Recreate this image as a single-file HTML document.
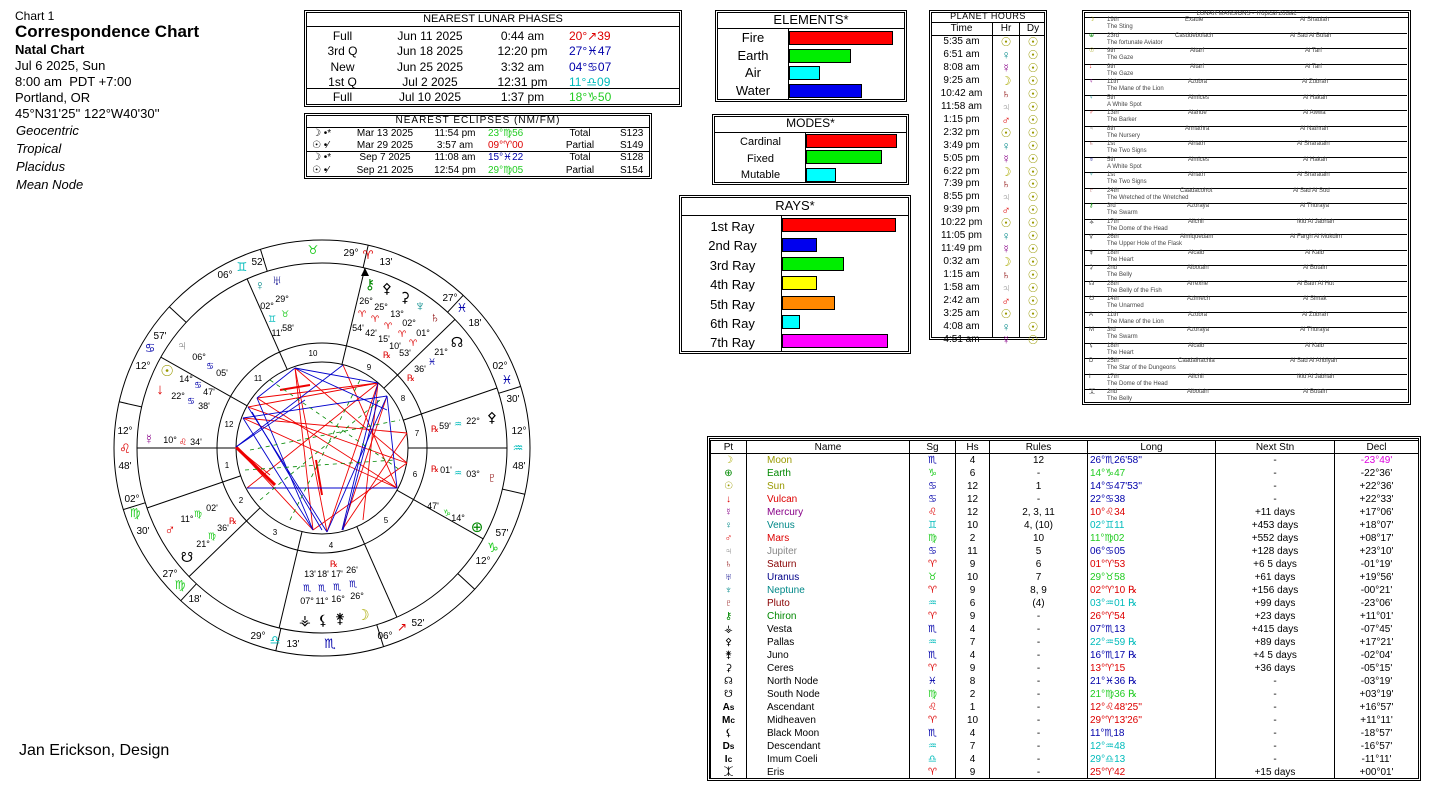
<!DOCTYPE html>
<html><head><meta charset="utf-8"><style>
body{margin:0;width:1437px;height:789px;background:#fff;position:relative;overflow:hidden;font-family:"Liberation Sans","DejaVu Sans",sans-serif;color:#000}
.a{position:absolute;white-space:nowrap}
.box{position:absolute;border:3px double #000;box-sizing:border-box}
.bar{position:absolute;border:1px solid #000;box-sizing:border-box;height:14px}
table{border-collapse:collapse;table-layout:fixed}
.pt td{height:13px;padding:0;font-size:10px;line-height:12px;border-left:1px solid #000;border-right:1px solid #000;text-align:center}
.pt th{height:12px;padding:0;font-size:10px;font-weight:normal;border:1px solid #000}
.lm{position:absolute;left:1085px;width:322px;height:15.5px;border-bottom:1px solid #000;font-size:6px;line-height:7px;color:#444}
.lm span{position:absolute;top:0}
</style></head><body>
<div class="a" style="left:15px;top:9px;font-size:12px">Chart 1</div>
<div class="a" style="left:15px;top:22px;font-size:17px;font-weight:bold">Correspondence Chart</div>
<div class="a" style="left:15px;top:42px;font-size:13px;font-weight:bold">Natal Chart</div>
<div class="a" style="left:15px;top:58px;font-size:13px;line-height:16px">Jul 6 2025, Sun<br>8:00 am&nbsp; PDT +7:00<br>Portland, OR<br>45°N31'25'' 122°W40'30''</div>
<div class="a" style="left:16px;top:122px;font-size:13px;line-height:18px;font-style:italic">Geocentric<br>Tropical<br>Placidus<br>Mean Node</div>
<div class="a" style="left:19px;top:742px;font-size:16px">Jan Erickson, Design</div>

<!-- lunar phases -->
<div class="box" style="left:304px;top:10px;width:378px;height:97px"></div>
<div class="a" style="left:306px;top:26px;width:374px;border-top:1px solid #000"></div>
<div class="a" style="left:306px;top:88px;width:374px;border-top:1px solid #000"></div>
<div class="a" style="left:304px;top:13px;width:378px;text-align:center;font-size:11px">NEAREST LUNAR PHASES</div>
<div class="a" style="left:320px;top:29px;font-size:12px;line-height:15.3px;text-align:center;width:45px">Full<br>3rd Q<br>New<br>1st Q<br>Full</div>
<div class="a" style="left:380px;top:29px;font-size:12px;line-height:15.3px;text-align:center;width:100px">Jun 11 2025<br>Jun 18 2025<br>Jun 25 2025<br>Jul 2 2025<br>Jul 10 2025</div>
<div class="a" style="left:490px;top:29px;font-size:12px;line-height:15.3px;text-align:center;width:65px">0:44 am<br>12:20 pm<br>3:32 am<br>12:31 pm<br>1:37 pm</div>
<div class="a" style="left:569px;top:29px;font-size:12px;line-height:15.3px"><span style="color:#d00">20°↗39</span><br><span style="color:#00a">27°♓47</span><br><span style="color:#00a">04°♋07</span><br><span style="color:#0bb">11°♎09</span><br><span style="color:#2c2">18°♑50</span></div>

<!-- eclipses -->
<div class="box" style="left:304px;top:113px;width:348px;height:66px"></div>
<div class="a" style="left:306px;top:127px;width:344px;border-top:1px solid #000"></div>
<div class="a" style="left:306px;top:151px;width:344px;border-top:1px solid #000"></div>
<div class="a" style="left:304px;top:115px;width:348px;text-align:center;font-size:10px;letter-spacing:1px">NEAREST ECLIPSES (NM/FM)</div>
<div class="a" style="left:312px;top:128px;font-size:10px;line-height:12.2px">☽ •*<br>☉ •⁄<br>☽ •*<br>☉ •⁄</div>
<div class="a" style="left:350px;top:128px;font-size:10px;line-height:12.2px;width:70px;text-align:center">Mar 13 2025<br>Mar 29 2025<br>Sep 7 2025<br>Sep 21 2025</div>
<div class="a" style="left:430px;top:128px;font-size:10px;line-height:12.2px;width:50px;text-align:center">11:54 pm<br>3:57 am<br>11:08 am<br>12:54 pm</div>
<div class="a" style="left:488px;top:128px;font-size:10px;line-height:12.2px"><span style="color:#2c2">23°♍56</span><br><span style="color:#d00">09°♈00</span><br><span style="color:#00a">15°♓22</span><br><span style="color:#2c2">29°♍05</span></div>
<div class="a" style="left:560px;top:128px;font-size:10px;line-height:12.2px;width:40px;text-align:center">Total<br>Partial<br>Total<br>Partial</div>
<div class="a" style="left:620px;top:128px;font-size:10px;line-height:12.2px">S123<br>S149<br>S128<br>S154</div>

<!-- elements -->
<div class="box" style="left:715px;top:10px;width:192px;height:92px"></div>
<div class="a" style="left:717px;top:28px;width:188px;border-top:1px solid #000"></div>
<div class="a" style="left:788px;top:28px;height:71px;border-left:1px solid #000"></div>
<div class="a" style="left:715px;top:12px;width:192px;text-align:center;font-size:13px">ELEMENTS*</div>
<div class="a" style="left:718px;top:29px;width:70px;text-align:center;font-size:13px;line-height:17.5px">Fire<br>Earth<br>Air<br>Water</div>
<div class="bar" style="left:789px;top:31px;width:104px;background:#f00"></div>
<div class="bar" style="left:789px;top:49px;width:62px;background:#0e0"></div>
<div class="bar" style="left:789px;top:66px;width:31px;background:#0ff"></div>
<div class="bar" style="left:789px;top:84px;width:73px;background:#00e"></div>

<!-- modes -->
<div class="box" style="left:712px;top:114px;width:197px;height:71px"></div>
<div class="a" style="left:714px;top:132px;width:193px;border-top:1px solid #000"></div>
<div class="a" style="left:805px;top:132px;height:51px;border-left:1px solid #000"></div>
<div class="a" style="left:712px;top:116px;width:197px;text-align:center;font-size:12px">MODES*</div>
<div class="a" style="left:716px;top:134px;width:89px;text-align:center;font-size:11px;line-height:16.5px">Cardinal<br>Fixed<br>Mutable</div>
<div class="bar" style="left:806px;top:134px;width:91px;background:#f00"></div>
<div class="bar" style="left:806px;top:150px;width:76px;background:#0e0"></div>
<div class="bar" style="left:806px;top:168px;width:30px;background:#0ff"></div>

<!-- rays -->
<div class="box" style="left:679px;top:195px;width:232px;height:159px"></div>
<div class="a" style="left:681px;top:215px;width:228px;border-top:1px solid #000"></div>
<div class="a" style="left:781px;top:215px;height:137px;border-left:1px solid #000"></div>
<div class="a" style="left:679px;top:198px;width:232px;text-align:center;font-size:13px">RAYS*</div>
<div class="a" style="left:700px;top:217px;width:65px;text-align:center;font-size:13px;line-height:19.4px">1st Ray<br>2nd Ray<br>3rd Ray<br>4th Ray<br>5th Ray<br>6th Ray<br>7th Ray</div>
<div class="bar" style="left:782px;top:218px;width:114px;background:#f00"></div>
<div class="bar" style="left:782px;top:238px;width:35px;background:#00e"></div>
<div class="bar" style="left:782px;top:257px;width:62px;background:#0e0"></div>
<div class="bar" style="left:782px;top:276px;width:35px;background:#ff0"></div>
<div class="bar" style="left:782px;top:296px;width:53px;background:#f80"></div>
<div class="bar" style="left:782px;top:315px;width:18px;background:#0ff"></div>
<div class="bar" style="left:782px;top:334px;width:106px;background:#f0f"></div>

<!-- planet hours -->
<div class="box" style="left:929px;top:10px;width:118px;height:330px"></div>
<div class="a" style="left:931px;top:22px;width:114px;border-top:1px solid #000"></div>
<div class="a" style="left:931px;top:35px;width:114px;border-top:1px solid #000"></div>
<div class="a" style="left:992px;top:22px;height:316px;border-left:1px solid #000"></div>
<div class="a" style="left:1019px;top:22px;height:316px;border-left:1px solid #000"></div>
<div class="a" style="left:929px;top:11px;width:118px;text-align:center;font-size:9px;letter-spacing:.5px">PLANET HOURS</div>
<div class="a" style="left:931px;top:23px;width:61px;text-align:center;font-size:10px">Time</div>
<div class="a" style="left:993px;top:23px;width:26px;text-align:center;font-size:10px">Hr</div>
<div class="a" style="left:1020px;top:23px;width:26px;text-align:center;font-size:10px">Dy</div>
<div class="a" style="left:931px;top:36px;width:61px;text-align:center;font-size:10px;line-height:12.95px">5:35 am<br>6:51 am<br>8:08 am<br>9:25 am<br>10:42 am<br>11:58 am<br>1:15 pm<br>2:32 pm<br>3:49 pm<br>5:05 pm<br>6:22 pm<br>7:39 pm<br>8:55 pm<br>9:39 pm<br>10:22 pm<br>11:05 pm<br>11:49 pm<br>0:32 am<br>1:15 am<br>1:58 am<br>2:42 am<br>3:25 am<br>4:08 am<br>4:51 am</div>
<div class="a" style="left:993px;top:36px;width:26px;text-align:center;font-size:12px;line-height:12.95px;font-weight:bold"><span style="color:#990">☉</span><br><span style="color:#088">♀</span><br><span style="color:#808">☿</span><br><span style="color:#aa0">☽</span><br><span style="color:#800">♄</span><br><span style="color:#888">♃</span><br><span style="color:#d00">♂</span><br><span style="color:#990">☉</span><br><span style="color:#088">♀</span><br><span style="color:#808">☿</span><br><span style="color:#aa0">☽</span><br><span style="color:#800">♄</span><br><span style="color:#888">♃</span><br><span style="color:#d00">♂</span><br><span style="color:#990">☉</span><br><span style="color:#088">♀</span><br><span style="color:#808">☿</span><br><span style="color:#aa0">☽</span><br><span style="color:#800">♄</span><br><span style="color:#888">♃</span><br><span style="color:#d00">♂</span><br><span style="color:#990">☉</span><br><span style="color:#088">♀</span><br><span style="color:#808">☿</span></div>
<div class="a" style="left:1020px;top:36px;width:26px;text-align:center;font-size:12px;line-height:12.95px;color:#990;font-weight:bold">☉<br>☉<br>☉<br>☉<br>☉<br>☉<br>☉<br>☉<br>☉<br>☉<br>☉<br>☉<br>☉<br>☉<br>☉<br>☉<br>☉<br>☉<br>☉<br>☉<br>☉<br>☉<br>☉<br>☉</div>

<!-- lunar mansions -->
<div class="box" style="left:1082px;top:10px;width:329px;height:395px"></div>
<div class="a" style="left:1082px;top:11px;width:329px;text-align:center;font-size:6px;color:#444">LUNAR MANSIONS - Tropical Zodiac</div>
<div class="a" style="left:1084px;top:17px;width:325px;border-top:1px solid #000"></div>
<div class="lm" style="top:17.0px"><span style="left:4px;color:#aa0">☽</span><span style="left:22px">19th</span><span style="left:100px">Exaule</span><span style="left:215px">Al Shaulah</span><span style="left:22px;top:7px">The Sting</span></div>
<div class="lm" style="top:32.5px"><span style="left:4px;color:#080">⊕</span><span style="left:22px">23rd</span><span style="left:90px">Casddebolach</span><span style="left:205px">Al Sad Al Bulah</span><span style="left:22px;top:7px">The fortunate Aviator</span></div>
<div class="lm" style="top:48px"><span style="left:4px;color:#990">☉</span><span style="left:22px">9th</span><span style="left:105px">Altarf</span><span style="left:220px">Al Tarf</span><span style="left:22px;top:7px">The Gaze</span></div>
<div class="lm" style="top:63.5px"><span style="left:4px;color:#d00">↓</span><span style="left:22px">9th</span><span style="left:105px">Altarf</span><span style="left:220px">Al Tarf</span><span style="left:22px;top:7px">The Gaze</span></div>
<div class="lm" style="top:79px"><span style="left:4px;color:#808">☿</span><span style="left:22px">11th</span><span style="left:103px">Azobra</span><span style="left:217px">Al Zubrah</span><span style="left:22px;top:7px">The Mane of the Lion</span></div>
<div class="lm" style="top:94.5px"><span style="left:4px;color:#088">♀</span><span style="left:22px">5th</span><span style="left:103px">Almices</span><span style="left:218px">Al Hakah</span><span style="left:22px;top:7px">A White Spot</span></div>
<div class="lm" style="top:110px"><span style="left:4px;color:#d00">♂</span><span style="left:22px">13th</span><span style="left:103px">Alahue</span><span style="left:218px">Al Awwa</span><span style="left:22px;top:7px">The Barker</span></div>
<div class="lm" style="top:125.5px"><span style="left:4px;color:#888">♃</span><span style="left:22px">8th</span><span style="left:100px">Annathra</span><span style="left:215px">Al Nathrah</span><span style="left:22px;top:7px">The Nursery</span></div>
<div class="lm" style="top:141px"><span style="left:4px;color:#800">♄</span><span style="left:22px">1st</span><span style="left:103px">Alnath</span><span style="left:212px">Al Sharatain</span><span style="left:22px;top:7px">The Two Signs</span></div>
<div class="lm" style="top:156.5px"><span style="left:4px;color:#008">♅</span><span style="left:22px">5th</span><span style="left:103px">Almices</span><span style="left:218px">Al Hakah</span><span style="left:22px;top:7px">A White Spot</span></div>
<div class="lm" style="top:172px"><span style="left:4px;color:#088">♆</span><span style="left:22px">1st</span><span style="left:103px">Alnath</span><span style="left:212px">Al Sharatain</span><span style="left:22px;top:7px">The Two Signs</span></div>
<div class="lm" style="top:187.5px"><span style="left:4px;color:#800">♇</span><span style="left:22px">24th</span><span style="left:95px">Caadacohot</span><span style="left:208px">Al Sad Al Sud</span><span style="left:22px;top:7px">The Wretched of the Wretched</span></div>
<div class="lm" style="top:203px"><span style="left:4px;color:#080">⚷</span><span style="left:22px">3rd</span><span style="left:102px">Azoraya</span><span style="left:215px">Al Thuraya</span><span style="left:22px;top:7px">The Swarm</span></div>
<div class="lm" style="top:218.5px"><span style="left:4px">⚶</span><span style="left:22px">17th</span><span style="left:103px">Alichil</span><span style="left:212px">Ikld Al Jabhah</span><span style="left:22px;top:7px">The Dome of the Head</span></div>
<div class="lm" style="top:234px"><span style="left:4px">⚴</span><span style="left:22px">26th</span><span style="left:95px">Almiquedam</span><span style="left:205px">Al Fargh Al Mukdim</span><span style="left:22px;top:7px">The Upper Hole of the Flask</span></div>
<div class="lm" style="top:249.5px"><span style="left:4px">⚵</span><span style="left:22px">18th</span><span style="left:103px">Alcalb</span><span style="left:220px">Al Kalb</span><span style="left:22px;top:7px">The Heart</span></div>
<div class="lm" style="top:265px"><span style="left:4px">⚳</span><span style="left:22px">2nd</span><span style="left:102px">Albotain</span><span style="left:218px">Al Butain</span><span style="left:22px;top:7px">The Belly</span></div>
<div class="lm" style="top:280.5px"><span style="left:4px">☊</span><span style="left:22px">28th</span><span style="left:102px">Arrexhe</span><span style="left:212px">Al Batn Al Hut</span><span style="left:22px;top:7px">The Belly of the Fish</span></div>
<div class="lm" style="top:296px"><span style="left:4px">☋</span><span style="left:22px">14th</span><span style="left:102px">Azimech</span><span style="left:218px">Al Simak</span><span style="left:22px;top:7px">The Unarmed</span></div>
<div class="lm" style="top:311.5px"><span style="left:4px">A</span><span style="left:22px">11th</span><span style="left:103px">Azobra</span><span style="left:217px">Al Zubrah</span><span style="left:22px;top:7px">The Mane of the Lion</span></div>
<div class="lm" style="top:327px"><span style="left:4px">M</span><span style="left:22px">3rd</span><span style="left:102px">Azoraya</span><span style="left:215px">Al Thuraya</span><span style="left:22px;top:7px">The Swarm</span></div>
<div class="lm" style="top:342.5px"><span style="left:4px">⚸</span><span style="left:22px">18th</span><span style="left:103px">Alcalb</span><span style="left:220px">Al Kalb</span><span style="left:22px;top:7px">The Heart</span></div>
<div class="lm" style="top:358px"><span style="left:4px">D</span><span style="left:22px">25th</span><span style="left:93px">Caadalhachia</span><span style="left:205px">Al Sad Al Ahbiyah</span><span style="left:22px;top:7px">The Star of the Dungeons</span></div>
<div class="lm" style="top:373.5px"><span style="left:4px">I</span><span style="left:22px">17th</span><span style="left:103px">Alichil</span><span style="left:212px">Ikld Al Jabhah</span><span style="left:22px;top:7px">The Dome of the Head</span></div>
<div class="lm" style="top:389px;border-bottom:none"><span style="left:4px">⯰</span><span style="left:22px">2nd</span><span style="left:102px">Albotain</span><span style="left:218px">Al Butain</span><span style="left:22px;top:7px">The Belly</span></div>

<!-- planet table -->
<div class="box" style="left:707px;top:436px;width:714px;height:345px;padding:1px 0 0 0">
<table class="pt" style="width:708px">
<colgroup><col style="width:36px"><col style="width:163px"><col style="width:46px"><col style="width:34px"><col style="width:98px"><col style="width:128px"><col style="width:119px"><col style="width:84px"></colgroup>
<tr><th>Pt</th><th>Name</th><th>Sg</th><th>Hs</th><th>Rules</th><th>Long</th><th>Next Stn</th><th>Decl</th></tr>
<tr><td style="color:#aa0">☽</td><td style="text-align:left;padding-left:20px;color:#990">Moon</td><td style="color:#00a">♏</td><td>4</td><td>12</td><td style="text-align:left;padding-left:2px;color:#00a">26°♏26'58''</td><td>-</td><td style="color:#d0d">-23°49'</td></tr>
<tr><td style="color:#080">⊕</td><td style="text-align:left;padding-left:20px;color:#080">Earth</td><td style="color:#2c2">♑</td><td>6</td><td>-</td><td style="text-align:left;padding-left:2px;color:#2c2">14°♑47</td><td>-</td><td>-22°36'</td></tr>
<tr><td style="color:#990">☉</td><td style="text-align:left;padding-left:20px;color:#990">Sun</td><td style="color:#00a">♋</td><td>12</td><td>1</td><td style="text-align:left;padding-left:2px;color:#00a">14°♋47'53''</td><td>-</td><td>+22°36'</td></tr>
<tr><td style="color:#d00">↓</td><td style="text-align:left;padding-left:20px;color:#d00">Vulcan</td><td style="color:#00a">♋</td><td>12</td><td>-</td><td style="text-align:left;padding-left:2px;color:#00a">22°♋38</td><td>-</td><td>+22°33'</td></tr>
<tr><td style="color:#808">☿</td><td style="text-align:left;padding-left:20px;color:#808">Mercury</td><td style="color:#d00">♌</td><td>12</td><td>2, 3, 11</td><td style="text-align:left;padding-left:2px;color:#d00">10°♌34</td><td>+11 days</td><td>+17°06'</td></tr>
<tr><td style="color:#088">♀</td><td style="text-align:left;padding-left:20px;color:#088">Venus</td><td style="color:#0bb">♊</td><td>10</td><td>4, (10)</td><td style="text-align:left;padding-left:2px;color:#0bb">02°♊11</td><td>+453 days</td><td>+18°07'</td></tr>
<tr><td style="color:#d00">♂</td><td style="text-align:left;padding-left:20px;color:#d00">Mars</td><td style="color:#2c2">♍</td><td>2</td><td>10</td><td style="text-align:left;padding-left:2px;color:#2c2">11°♍02</td><td>+552 days</td><td>+08°17'</td></tr>
<tr><td style="color:#888">♃</td><td style="text-align:left;padding-left:20px;color:#888">Jupiter</td><td style="color:#00a">♋</td><td>11</td><td>5</td><td style="text-align:left;padding-left:2px;color:#00a">06°♋05</td><td>+128 days</td><td>+23°10'</td></tr>
<tr><td style="color:#800">♄</td><td style="text-align:left;padding-left:20px;color:#800">Saturn</td><td style="color:#d00">♈</td><td>9</td><td>6</td><td style="text-align:left;padding-left:2px;color:#d00">01°♈53</td><td>+6 5 days</td><td>-01°19'</td></tr>
<tr><td style="color:#008">♅</td><td style="text-align:left;padding-left:20px;color:#008">Uranus</td><td style="color:#2c2">♉</td><td>10</td><td>7</td><td style="text-align:left;padding-left:2px;color:#2c2">29°♉58</td><td>+61 days</td><td>+19°56'</td></tr>
<tr><td style="color:#088">♆</td><td style="text-align:left;padding-left:20px;color:#088">Neptune</td><td style="color:#d00">♈</td><td>9</td><td>8, 9</td><td style="text-align:left;padding-left:2px;color:#d00">02°♈10 ℞</td><td>+156 days</td><td>-00°21'</td></tr>
<tr><td style="color:#800">♇</td><td style="text-align:left;padding-left:20px;color:#800">Pluto</td><td style="color:#0bb">♒</td><td>6</td><td>(4)</td><td style="text-align:left;padding-left:2px;color:#0bb">03°♒01 ℞</td><td>+99 days</td><td>-23°06'</td></tr>
<tr><td style="color:#080">⚷</td><td style="text-align:left;padding-left:20px;color:#080">Chiron</td><td style="color:#d00">♈</td><td>9</td><td>-</td><td style="text-align:left;padding-left:2px;color:#d00">26°♈54</td><td>+23 days</td><td>+11°01'</td></tr>
<tr><td>⚶</td><td style="text-align:left;padding-left:20px">Vesta</td><td style="color:#00a">♏</td><td>4</td><td>-</td><td style="text-align:left;padding-left:2px;color:#00a">07°♏13</td><td>+415 days</td><td>-07°45'</td></tr>
<tr><td>⚴</td><td style="text-align:left;padding-left:20px">Pallas</td><td style="color:#0bb">♒</td><td>7</td><td>-</td><td style="text-align:left;padding-left:2px;color:#0bb">22°♒59 ℞</td><td>+89 days</td><td>+17°21'</td></tr>
<tr><td>⚵</td><td style="text-align:left;padding-left:20px">Juno</td><td style="color:#00a">♏</td><td>4</td><td>-</td><td style="text-align:left;padding-left:2px;color:#00a">16°♏17 ℞</td><td>+4 5 days</td><td>-02°04'</td></tr>
<tr><td>⚳</td><td style="text-align:left;padding-left:20px">Ceres</td><td style="color:#d00">♈</td><td>9</td><td>-</td><td style="text-align:left;padding-left:2px;color:#d00">13°♈15</td><td>+36 days</td><td>-05°15'</td></tr>
<tr><td>☊</td><td style="text-align:left;padding-left:20px">North Node</td><td style="color:#00a">♓</td><td>8</td><td>-</td><td style="text-align:left;padding-left:2px;color:#00a">21°♓36 ℞</td><td>-</td><td>-03°19'</td></tr>
<tr><td>☋</td><td style="text-align:left;padding-left:20px">South Node</td><td style="color:#2c2">♍</td><td>2</td><td>-</td><td style="text-align:left;padding-left:2px;color:#2c2">21°♍36 ℞</td><td>-</td><td>+03°19'</td></tr>
<tr><td style="font-weight:bold">A<small>s</small></td><td style="text-align:left;padding-left:20px">Ascendant</td><td style="color:#d00">♌</td><td>1</td><td>-</td><td style="text-align:left;padding-left:2px;color:#d00">12°♌48'25''</td><td>-</td><td>+16°57'</td></tr>
<tr><td style="font-weight:bold">M<small>c</small></td><td style="text-align:left;padding-left:20px">Midheaven</td><td style="color:#d00">♈</td><td>10</td><td>-</td><td style="text-align:left;padding-left:2px;color:#d00">29°♈13'26''</td><td>-</td><td>+11°11'</td></tr>
<tr><td>⚸</td><td style="text-align:left;padding-left:20px">Black Moon</td><td style="color:#00a">♏</td><td>4</td><td>-</td><td style="text-align:left;padding-left:2px;color:#00a">11°♏18</td><td>-</td><td>-18°57'</td></tr>
<tr><td style="font-weight:bold">D<small>s</small></td><td style="text-align:left;padding-left:20px">Descendant</td><td style="color:#0bb">♒</td><td>7</td><td>-</td><td style="text-align:left;padding-left:2px;color:#0bb">12°♒48</td><td>-</td><td>-16°57'</td></tr>
<tr><td style="font-weight:bold">I<small>c</small></td><td style="text-align:left;padding-left:20px">Imum Coeli</td><td style="color:#0bb">♎</td><td>4</td><td>-</td><td style="text-align:left;padding-left:2px;color:#0bb">29°♎13</td><td>-</td><td>-11°11'</td></tr>
<tr><td>⯰</td><td style="text-align:left;padding-left:20px">Eris</td><td style="color:#d00">♈</td><td>9</td><td>-</td><td style="text-align:left;padding-left:2px;color:#d00">25°♈42</td><td>+15 days</td><td>+00°01'</td></tr>
</table></div>

<!-- wheel -->
<svg class="a" style="left:0;top:0" width="560" height="700" viewBox="0 0 560 700" font-family="Liberation Sans, DejaVu Sans, sans-serif">
<g fill="none" stroke="#000" stroke-width="1">
<circle cx="322" cy="448" r="208"/><circle cx="322" cy="448" r="185"/><circle cx="322" cy="448" r="105"/><circle cx="322" cy="448" r="86"/>
<line x1="236" y1="448" x2="137" y2="448"/><line x1="247.1" y1="405.8" x2="160.9" y2="357.2"/><line x1="287.2" y1="369.4" x2="247.1" y2="278.9"/><line x1="342" y1="364.3" x2="364.9" y2="268"/><line x1="383.9" y1="388.2" x2="455" y2="319.4"/><line x1="403.4" y1="420.1" x2="497" y2="388"/><line x1="408" y1="448" x2="507" y2="448"/><line x1="396.9" y1="490.2" x2="483.1" y2="538.8"/><line x1="356.8" y1="526.6" x2="396.9" y2="617.1"/><line x1="302" y1="531.7" x2="279.1" y2="628"/><line x1="260.1" y1="507.8" x2="189" y2="576.6"/><line x1="240.6" y1="475.9" x2="147" y2="508"/>
<line x1="447.6" y1="312.2" x2="463.2" y2="295.3"/><line x1="363.1" y1="267.6" x2="368.2" y2="245.2"/><line x1="267.2" y1="271.1" x2="260.4" y2="249.2"/><line x1="186.2" y1="322.4" x2="169.3" y2="306.8"/><line x1="141.6" y1="406.9" x2="119.2" y2="401.8"/><line x1="145.1" y1="502.8" x2="123.2" y2="509.6"/><line x1="196.4" y1="583.8" x2="180.8" y2="600.7"/><line x1="280.9" y1="628.4" x2="275.8" y2="650.8"/><line x1="376.8" y1="624.9" x2="383.6" y2="646.8"/><line x1="457.8" y1="573.6" x2="474.7" y2="589.2"/><line x1="502.4" y1="489.1" x2="524.8" y2="494.2"/><line x1="498.9" y1="393.2" x2="520.8" y2="386.4"/>
</g>
<polygon points="365,268 361,276 369,276" fill="#000"/>
<g stroke="#e00" stroke-width="0.9" fill="none">
<line x1="295" y1="368" x2="313" y2="530"/><line x1="295" y1="368" x2="327" y2="532"/><line x1="378" y1="383" x2="247" y2="488"/><line x1="236" y1="447" x2="313" y2="530"/><line x1="236" y1="447" x2="270" y2="475"/><line x1="243" y1="418" x2="407" y2="433"/><line x1="257" y1="398" x2="378" y2="383"/><line x1="343" y1="365" x2="397" y2="488"/><line x1="387" y1="396" x2="342" y2="530"/><line x1="407" y1="433" x2="342" y2="530"/><line x1="407" y1="463" x2="248" y2="407"/><line x1="397" y1="488" x2="257" y2="398"/><line x1="313" y1="530" x2="407" y2="463"/><line x1="295" y1="368" x2="407" y2="463"/><line x1="248" y1="407" x2="378" y2="383"/><line x1="378" y1="383" x2="363" y2="520"/><line x1="327" y1="532" x2="378" y2="383"/><line x1="243" y1="418" x2="397" y2="488"/>
<line x1="236" y1="447" x2="275" y2="485" stroke-width="3"/><line x1="280" y1="390" x2="310" y2="385" stroke-width="2"/><line x1="316" y1="460" x2="322" y2="495" stroke-width="2"/>
</g>
<g stroke="#00c" stroke-width="0.9" fill="none">
<line x1="295" y1="368" x2="378" y2="383"/><line x1="295" y1="368" x2="257" y2="398"/><line x1="378" y1="383" x2="342" y2="530"/><line x1="387" y1="396" x2="327" y2="532"/><line x1="243" y1="418" x2="313" y2="530"/><line x1="248" y1="407" x2="327" y2="532"/><line x1="236" y1="447" x2="343" y2="365"/><line x1="247" y1="488" x2="397" y2="488"/><line x1="243" y1="418" x2="387" y2="396"/><line x1="295" y1="368" x2="387" y2="410"/><line x1="257" y1="398" x2="313" y2="530"/><line x1="387" y1="396" x2="397" y2="488"/><line x1="236" y1="447" x2="305" y2="400"/><line x1="252" y1="412" x2="322" y2="530"/><line x1="343" y1="530" x2="378" y2="400"/>
</g>
<g stroke="#080" stroke-width="0.8" fill="none" stroke-dasharray="4 4">
<line x1="250" y1="450" x2="400" y2="420"/><line x1="260" y1="500" x2="380" y2="400"/><line x1="270" y1="380" x2="400" y2="470"/><line x1="290" y1="520" x2="360" y2="380"/><line x1="245" y1="470" x2="395" y2="460"/>
</g>
<g font-size="9" fill="#000">
<text x="313" y="356" text-anchor="middle" font-size="8">10</text><text x="369" y="370" text-anchor="middle" font-size="8">9</text><text x="403" y="401" text-anchor="middle" font-size="8">8</text><text x="417" y="436" text-anchor="middle" font-size="8">7</text><text x="415" y="477" text-anchor="middle" font-size="8">6</text><text x="386" y="523" text-anchor="middle" font-size="8">5</text><text x="331" y="548" text-anchor="middle" font-size="8">4</text><text x="275" y="535" text-anchor="middle" font-size="8">3</text><text x="241" y="503" text-anchor="middle" font-size="8">2</text><text x="227" y="468" text-anchor="middle" font-size="8">1</text><text x="229" y="427" text-anchor="middle" font-size="8">12</text><text x="258" y="381" text-anchor="middle" font-size="8">11</text>
</g>
<g font-size="10" text-anchor="middle">
<text x="313" y="254" fill="#2c2" font-size="12">♉</text><text x="351" y="256">29°</text><text x="368" y="259" fill="#d00" font-size="12">♈</text><text x="386" y="265">13'</text>
<text x="242" y="271" fill="#0bb" font-size="12">♊</text><text x="225" y="278">06°</text><text x="258" y="265">52'</text>
<text x="150" y="352" fill="#00a" font-size="12">♋</text><text x="160" y="339">57'</text><text x="143" y="369">12°</text>
<text x="125" y="453" fill="#d00" font-size="13">♌</text><text x="125" y="434">12°</text><text x="125" y="469">48'</text>
<text x="135" y="517" fill="#2c2" font-size="12">♍</text><text x="132" y="502">02°</text><text x="143" y="534">30'</text>
<text x="180" y="589" fill="#2c2" font-size="12">♍</text><text x="170" y="577">27°</text><text x="195" y="602">18'</text>
<text x="275" y="644" fill="#0bb" font-size="12">♎</text><text x="258" y="639">29°</text><text x="293" y="647">13'</text>
<text x="330" y="648" fill="#00a" font-size="13">♏</text>
<text x="402" y="631" fill="#d00" font-size="12">↗</text><text x="385" y="639">06°</text><text x="418" y="626">52'</text>
<text x="493" y="552" fill="#2c2" font-size="13">♑</text><text x="502" y="536">57'</text><text x="483" y="564">12°</text>
<text x="518" y="452" fill="#0bb" font-size="12">♒</text><text x="519" y="434">12°</text><text x="519" y="469">48'</text>
<text x="507" y="384" fill="#00a" font-size="12">♓</text><text x="500" y="369">02°</text><text x="513" y="402">30'</text>
<text x="462" y="312" fill="#00a" font-size="12">♓</text><text x="450" y="301">27°</text><text x="475" y="326">18'</text>
</g>
<g font-size="9" text-anchor="middle">
<text x="260" y="290" fill="#088" font-size="14">♀</text><text x="277" y="285" fill="#008" font-size="14">♅</text><text x="267" y="309">02°</text><text x="282" y="302">29°</text><text x="272" y="322" fill="#0bb">♊</text><text x="285" y="317" fill="#2c2">♉</text><text x="277" y="336">11'</text><text x="288" y="331">58'</text>
<text x="370" y="289" fill="#080" font-size="14">⚷</text><text x="387" y="293" font-size="14">⚴</text><text x="405" y="302" font-size="14">⚳</text><text x="420" y="311" fill="#088" font-size="15">♆</text><text x="435" y="322" fill="#800" font-size="14">♄</text>
<text x="366" y="304">26°</text><text x="381" y="310">25°</text><text x="397" y="317">13°</text><text x="409" y="326">02°</text><text x="423" y="336">01°</text>
<text x="362" y="317" fill="#d00">♈</text><text x="375" y="322" fill="#d00">♈</text><text x="388" y="329" fill="#d00">♈</text><text x="402" y="337" fill="#d00">♈</text><text x="413" y="346" fill="#d00">♈</text>
<text x="358" y="331">54'</text><text x="371" y="336">42'</text><text x="384" y="342">15'</text><text x="395" y="349">10'</text><text x="405" y="356">53'</text><text x="387" y="358" fill="#d00">℞</text>
<text x="457" y="347" font-size="14">☊</text><text x="441" y="355">21°</text><text x="432" y="365" fill="#00a">♓</text><text x="420" y="372">36'</text><text x="411" y="381" fill="#d00">℞</text>
<text x="492" y="422" font-size="14">⚴</text><text x="473" y="424">22°</text><text x="458" y="427" fill="#0bb">♒</text><text x="445" y="429">59'</text><text x="435" y="432" fill="#d00">℞</text>
<text x="492" y="482" fill="#800" font-size="14">♇</text><text x="473" y="477">03°</text><text x="458" y="476" fill="#0bb">♒</text><text x="446" y="473">01'</text><text x="435" y="472" fill="#d00">℞</text>
<text x="477" y="532" fill="#080" font-size="15">⊕</text><text x="458" y="521">14°</text><text x="447" y="516" fill="#2c2">♑</text><text x="433" y="509">47'</text>
<text x="363" y="620" fill="#aa0" font-size="15">☽</text><text x="340" y="623" font-size="14">⚵</text><text x="323" y="625" font-size="14">⚸</text><text x="305" y="625" font-size="14">⚶</text>
<text x="307" y="604">07°</text><text x="322" y="604">11°</text><text x="338" y="602">16°</text><text x="357" y="599">26°</text>
<text x="307" y="591" fill="#00a">♏</text><text x="322" y="591" fill="#00a">♏</text><text x="337" y="590" fill="#00a">♏</text><text x="353" y="587" fill="#00a">♏</text>
<text x="310" y="577">13'</text><text x="323" y="577">18'</text><text x="337" y="577">17'</text><text x="352" y="573">26'</text><text x="334" y="567" fill="#d00">℞</text>
<text x="187" y="562" font-size="14">☋</text><text x="170" y="535" fill="#d00" font-size="15">♂</text><text x="187" y="522">11°</text><text x="198" y="517" fill="#2c2">♍</text><text x="212" y="511">02'</text><text x="203" y="547">21°</text><text x="212" y="539" fill="#2c2">♍</text><text x="223" y="531">36'</text><text x="233" y="524" fill="#d00">℞</text>
<text x="149" y="444" fill="#808" font-size="14">☿</text><text x="170" y="443">10°</text><text x="183" y="445" fill="#d00">♌</text><text x="196" y="445">34'</text>
<text x="167" y="376" fill="#990" font-size="15">☉</text><text x="160" y="394" fill="#d00" font-size="15">↓</text><text x="182" y="350" fill="#888" font-size="14">♃</text>
<text x="199" y="360">06°</text><text x="210" y="369" fill="#00a">♋</text><text x="222" y="376">05'</text><text x="186" y="382">14°</text><text x="198" y="388" fill="#00a">♋</text><text x="209" y="395">47'</text><text x="178" y="399">22°</text><text x="191" y="404" fill="#00a">♋</text><text x="204" y="409">38'</text>
</g>
</svg>
</body></html>
